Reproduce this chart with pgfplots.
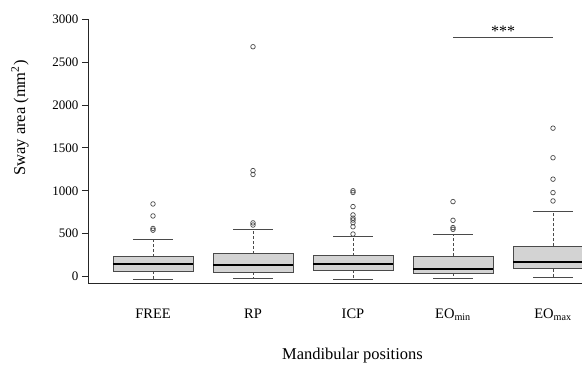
\documentclass[border=0pt]{standalone}
\usepackage{fontspec}
\setmainfont{Liberation Serif}
\usepackage{pgfplots}
\pgfplotsset{compat=1.18}
\usepgfplotslibrary{statistics}
\definecolor{boxfill}{HTML}{D3D3D3}
\definecolor{boxedge}{HTML}{4A4A4A}
\begin{document}
\begin{tikzpicture}
\begin{axis}[
  scale only axis, width=493bp, height=264.2bp,
  xmin=0.36, xmax=5.29, ymin=-82, ymax=3000,
  axis lines*=left,
  axis line style={line width=1bp, black!85},
  xtick={1,2,3,4,5},
  xticklabels={FREE,RP,ICP,EO\textsubscript{min},EO\textsubscript{max}},
  x tick style={draw=none},
  xticklabel style={font=\fontsize{14.5bp}{17bp}\selectfont, yshift=-15bp},
  ytick={0,500,1000,1500,2000,2500,3000},
  y tick style={line width=1bp, black!85},
  tick align=outside, major tick length=7bp,
  yticklabel style={font=\fontsize{13bp}{15bp}\selectfont},
  /pgf/number format/assume math mode=true,
  /pgf/number format/1000 sep={},
  xlabel={Mandibular positions},
  every axis x label/.style={at={(axis description cs:0.5344,0)}, anchor=base, yshift=-76bp, font=\fontsize{16.5bp}{19bp}\selectfont},
  ylabel={Sway area (mm\textsuperscript{2})},
  every axis y label/.style={at={(axis description cs:-0.14,0.626)}, rotate=90, anchor=center, font=\fontsize{16.5bp}{19bp}\selectfont},
  boxplot/draw direction=y,
  boxplot/box extend=0.8,
  boxplot/whisker extend=0.4,
  boxplot/every box/.style={fill=boxfill, draw=boxedge, line width=0.9bp},
  boxplot/every median/.style={black, line width=2bp},
  boxplot/draw/lower whisker/.code={%
    \draw[boxedge, line width=0.8bp, dash pattern=on 3bp off 2bp]
      (boxplot box cs:\pgfplotsboxplotvalue{lower quartile},0.5) --
      (boxplot box cs:\pgfplotsboxplotvalue{lower whisker},0.5);
    \draw[boxedge, line width=0.9bp]
      (boxplot whisker cs:\pgfplotsboxplotvalue{lower whisker},0) --
      (boxplot whisker cs:\pgfplotsboxplotvalue{lower whisker},1);
  },
  boxplot/draw/upper whisker/.code={%
    \draw[boxedge, line width=0.8bp, dash pattern=on 3bp off 2bp]
      (boxplot box cs:\pgfplotsboxplotvalue{upper quartile},0.5) --
      (boxplot box cs:\pgfplotsboxplotvalue{upper whisker},0.5);
    \draw[boxedge, line width=0.9bp]
      (boxplot whisker cs:\pgfplotsboxplotvalue{upper whisker},0) --
      (boxplot whisker cs:\pgfplotsboxplotvalue{upper whisker},1);
  },
]
% FREE
\addplot[mark=o, mark size=2.3bp, mark options={draw=boxedge, line width=0.7bp, solid}, boxplot prepared={draw position=1, lower whisker=-29, lower quartile=64, median=142, upper quartile=231, upper whisker=429}]
  coordinates {(1,540) (1,560) (1,706) (1,846)};
% RP
\addplot[mark=o, mark size=2.3bp, mark options={draw=boxedge, line width=0.7bp, solid}, boxplot prepared={draw position=2, lower whisker=-21, lower quartile=52, median=138, upper quartile=266, upper whisker=551}]
  coordinates {(2,600) (2,625) (2,1190) (2,1235) (2,2680)};
% ICP
\addplot[mark=o, mark size=2.3bp, mark options={draw=boxedge, line width=0.7bp, solid}, boxplot prepared={draw position=3, lower whisker=-29, lower quartile=72, median=146, upper quartile=243, upper whisker=472}]
  coordinates {(3,495) (3,580) (3,627) (3,658) (3,680) (3,718) (3,815) (3,980) (3,1000)};
% EOmin
\addplot[mark=o, mark size=2.3bp, mark options={draw=boxedge, line width=0.7bp, solid}, boxplot prepared={draw position=4, lower whisker=-21, lower quartile=37, median=87, upper quartile=236, upper whisker=496}]
  coordinates {(4,550) (4,570) (4,655) (4,873)};
% EOmax
\addplot[mark=o, mark size=2.3bp, mark options={draw=boxedge, line width=0.7bp, solid}, boxplot prepared={draw position=5, lower whisker=-6, lower quartile=91, median=169, upper quartile=352, upper whisker=761}]
  coordinates {(5,881) (5,978) (5,1135) (5,1385) (5,1730)};
\draw[boxedge, line width=1bp] (axis cs:4,2790) -- (axis cs:5,2790);
\node[anchor=south, inner sep=0.5bp, font=\fontsize{16bp}{18bp}\selectfont] at (axis cs:4.5,2790) {***};
\end{axis}
\pgfresetboundingbox
\path (-89bp,-81.5bp) rectangle (493bp,283.5bp);
\end{tikzpicture}
\end{document}
